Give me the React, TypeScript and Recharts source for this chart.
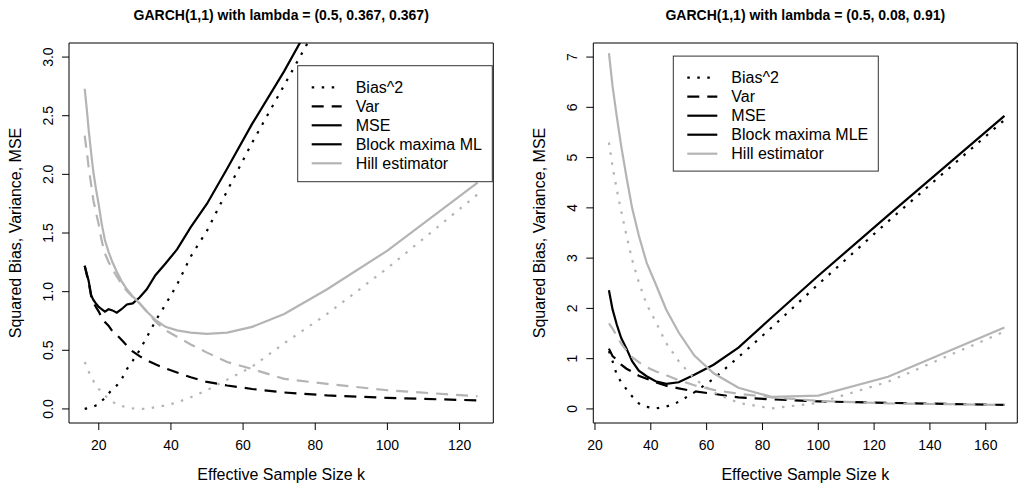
import { LineChart, Line, XAxis, YAxis, ReferenceArea } from 'recharts';

const FONT = "'Liberation Sans', Arial, Helvetica, sans-serif";
const GRAY = '#b4b4b4';
const DOT = '2.5 7.5';
const DASH = '12 8';

// left panel: lambda = (0.5, 0.367, 0.367)
const K_LEFT = [16.1, 16.7, 17.2, 17.9, 18.5, 19.2, 20, 20.8, 21.7, 22.7, 23.8, 25, 26.3, 27.8, 29.4, 31.3, 33.3, 35.7, 38.5, 41.7, 45.5, 50, 55.6, 62.5, 71.4, 83.3, 100, 125];
const BM_BIAS_LEFT = [0.0, 0.005, 0.008, 0.015, 0.02, 0.03, 0.04, 0.07, 0.09, 0.13, 0.17, 0.2, 0.25, 0.34, 0.41, 0.5, 0.61, 0.75, 0.89, 1.06, 1.3, 1.52, 1.86, 2.27, 2.76, 3.42, 4.5, 6.2];
const BM_VAR_LEFT = [1.22, 1.14, 1.08, 0.96, 0.91, 0.87, 0.83, 0.78, 0.74, 0.71, 0.66, 0.63, 0.59, 0.54, 0.49, 0.45, 0.415, 0.38, 0.345, 0.31, 0.27, 0.23, 0.2, 0.17, 0.14, 0.115, 0.094, 0.073];
const BM_MSE_LEFT = [1.22, 1.15, 1.09, 0.97, 0.93, 0.9, 0.87, 0.85, 0.83, 0.85, 0.84, 0.82, 0.85, 0.89, 0.9, 0.95, 1.02, 1.14, 1.24, 1.36, 1.55, 1.75, 2.05, 2.43, 2.88, 3.54, 4.6, 6.3];
const HILL_BIAS_LEFT = [0.4, 0.36, 0.32, 0.27, 0.24, 0.2, 0.17, 0.145, 0.115, 0.085, 0.06, 0.042, 0.025, 0.013, 0.005, 0.0, 0.0, 0.015, 0.03, 0.055, 0.1, 0.16, 0.25, 0.36, 0.56, 0.81, 1.2, 1.83];
const HILL_VAR_LEFT = [2.33, 2.19, 2.06, 1.91, 1.78, 1.68, 1.57, 1.435, 1.325, 1.255, 1.19, 1.13, 1.065, 1.005, 0.955, 0.9, 0.83, 0.745, 0.67, 0.615, 0.55, 0.48, 0.4, 0.34, 0.256, 0.213, 0.159, 0.108];
const HILL_MSE_LEFT = [2.73, 2.55, 2.38, 2.18, 2.02, 1.88, 1.74, 1.58, 1.44, 1.34, 1.25, 1.17, 1.09, 1.02, 0.96, 0.9, 0.83, 0.76, 0.7, 0.67, 0.65, 0.64, 0.65, 0.7, 0.81, 1.02, 1.35, 1.93];

// right panel: lambda = (0.5, 0.08, 0.91)
const K_RIGHT = [25, 26.3, 27.8, 29.4, 31.3, 33.3, 35.7, 38.5, 41.7, 45.5, 50, 55.6, 62.5, 71.4, 83.3, 100, 125, 166.7];
const BM_BIAS_RIGHT = [1.15, 0.95, 0.68, 0.53, 0.39, 0.25, 0.11, 0.04, 0.01, 0.045, 0.14, 0.33, 0.6, 1.03, 1.62, 2.48, 3.73, 5.75];
const BM_VAR_RIGHT = [1.2, 1.05, 0.98, 0.88, 0.8, 0.74, 0.66, 0.6, 0.53, 0.46, 0.41, 0.35, 0.3, 0.23, 0.19, 0.15, 0.12, 0.08];
const BM_MSE_RIGHT = [2.36, 1.98, 1.68, 1.41, 1.2, 0.95, 0.76, 0.65, 0.55, 0.5, 0.53, 0.68, 0.88, 1.22, 1.82, 2.65, 3.85, 5.83];
const HILL_BIAS_RIGHT = [5.3, 4.82, 4.37, 3.93, 3.45, 2.97, 2.52, 2.08, 1.74, 1.31, 0.95, 0.6, 0.33, 0.12, 0.01, 0.12, 0.54, 1.54];
const HILL_VAR_RIGHT = [1.7, 1.6, 1.45, 1.3, 1.16, 1.03, 0.93, 0.83, 0.75, 0.67, 0.57, 0.47, 0.38, 0.3, 0.23, 0.16, 0.11, 0.08];
const HILL_MSE_RIGHT = [7.08, 6.42, 5.82, 5.23, 4.61, 4.0, 3.45, 2.91, 2.49, 1.98, 1.52, 1.06, 0.71, 0.42, 0.24, 0.265, 0.64, 1.62];

const X_TICKS_LEFT = [20, 40, 60, 80, 100, 120];
const Y_TICKS_LEFT = [0, 0.5, 1, 1.5, 2, 2.5, 3];
const X_TICKS_RIGHT = [20, 40, 60, 80, 100, 120, 140, 160];
const Y_TICKS_RIGHT = [0, 1, 2, 3, 4, 5, 6, 7];

const LEGEND_LEFT = ['Bias^2', 'Var', 'MSE', 'Block maxima ML', 'Hill estimator'];
const LEGEND_RIGHT = ['Bias^2', 'Var', 'MSE', 'Block maxima MLE', 'Hill estimator'];
const LEGEND_STYLES = [
  { color: '#000', dash: DOT },
  { color: '#000', dash: DASH },
  { color: '#000', dash: undefined },
  { color: '#000', dash: undefined },
  { color: GRAY, dash: undefined },
];

const build = (ks: number[], bb: number[], bv: number[], bm: number[], hb: number[], hv: number[], hm: number[]) =>
  ks.map((k, i) => ({ k, bmBias: bb[i], bmVar: bv[i], bmMse: bm[i], hillBias: hb[i], hillVar: hv[i], hillMse: hm[i] }));

const leftData = build(K_LEFT, BM_BIAS_LEFT, BM_VAR_LEFT, BM_MSE_LEFT, HILL_BIAS_LEFT, HILL_VAR_LEFT, HILL_MSE_LEFT);
const rightData = build(K_RIGHT, BM_BIAS_RIGHT, BM_VAR_RIGHT, BM_MSE_RIGHT, HILL_BIAS_RIGHT, HILL_VAR_RIGHT, HILL_MSE_RIGHT);

const XTick = ({ x, y, payload }: any) => (
  <text x={x} y={y + 20} textAnchor="middle" fontFamily={FONT} fontSize={14} fill="#000">
    {payload.value}
  </text>
);

const makeYTick = (digits: number) => ({ x, y, payload }: any) => (
  <text
    x={x - 9}
    y={y}
    transform={`rotate(-90 ${x - 9} ${y})`}
    textAnchor="middle"
    fontFamily={FONT}
    fontSize={14}
    fill="#000"
  >
    {Number(payload.value).toFixed(digits)}
  </text>
);

type PanelProps = {
  data: any[];
  xDomain: [number, number];
  yDomain: [number, number];
  xTicks: number[];
  yTicks: number[];
  yDigits: number;
  left: number;
  yAxisWidth: number;
  right: number;
};

const Panel = ({ data, xDomain, yDomain, xTicks, yTicks, yDigits, left, yAxisWidth, right }: PanelProps) => (
  <div style={{ position: 'absolute', left, top: 0 }}>
    <LineChart width={511} height={486} data={data} margin={{ top: 43, right, bottom: 0, left: 0 }}>
      <XAxis
        type="number"
        dataKey="k"
        domain={xDomain}
        ticks={xTicks}
        allowDataOverflow
        interval={0}
        height={63}
        tickSize={7}
        tickMargin={0}
        axisLine={false}
        tickLine={{ stroke: '#000' }}
        tick={XTick}
      />
      <YAxis
        type="number"
        domain={yDomain}
        ticks={yTicks}
        allowDataOverflow
        interval={0}
        width={yAxisWidth}
        tickSize={7}
        tickMargin={0}
        axisLine={false}
        tickLine={{ stroke: '#000' }}
        tick={makeYTick(yDigits)}
      />
      <Line type="linear" dataKey="bmBias" stroke="#000" strokeWidth={2.2} strokeDasharray={DOT} dot={false} isAnimationActive={false} />
      <Line type="linear" dataKey="bmVar" stroke="#000" strokeWidth={2.2} strokeDasharray={DASH} dot={false} isAnimationActive={false} />
      <Line type="linear" dataKey="bmMse" stroke="#000" strokeWidth={2.2} dot={false} isAnimationActive={false} />
      <Line type="linear" dataKey="hillBias" stroke={GRAY} strokeWidth={2.2} strokeDasharray={DOT} dot={false} isAnimationActive={false} />
      <Line type="linear" dataKey="hillVar" stroke={GRAY} strokeWidth={2.2} strokeDasharray={DASH} dot={false} isAnimationActive={false} />
      <Line type="linear" dataKey="hillMse" stroke={GRAY} strokeWidth={2.2} dot={false} isAnimationActive={false} />
      <ReferenceArea
        x1={xDomain[0]}
        x2={xDomain[1]}
        y1={yDomain[0]}
        y2={yDomain[1]}
        fill="none"
        fillOpacity={0}
        stroke="#000"
        strokeWidth={1}
        ifOverflow="visible"
      />
    </LineChart>
  </div>
);

const LegendBox = ({ x, y, w, h, labels }: { x: number; y: number; w: number; h: number; labels: string[] }) => (
  <g>
    <rect x={x} y={y} width={w} height={h} fill="#fff" stroke="#333" strokeWidth={1} />
    {labels.map((label, i) => {
      const cy = y + 21.6 + i * 19;
      const st = LEGEND_STYLES[i];
      return (
        <g key={label}>
          <line x1={x + 14} x2={x + 44} y1={cy} y2={cy} stroke={st.color} strokeWidth={2.2} strokeDasharray={st.dash} />
          <text x={x + 58} y={cy + 5.7} fontFamily={FONT} fontSize={16} fill="#000">
            {label}
          </text>
        </g>
      );
    })}
  </g>
);

const App = () => (
  <div style={{ position: 'absolute', left: 0, top: 0, width: 1022, height: 486, background: '#fff', overflow: 'hidden' }}>
    <Panel
      data={leftData}
      xDomain={[11.75, 129.35]}
      yDomain={[-0.12, 3.12]}
      xTicks={X_TICKS_LEFT}
      yTicks={Y_TICKS_LEFT}
      yDigits={1}
      left={0}
      yAxisWidth={69}
      right={17.7}
    />
    <Panel
      data={rightData}
      xDomain={[19.4, 171.3]}
      yDomain={[-0.28, 7.28]}
      xTicks={X_TICKS_RIGHT}
      yTicks={Y_TICKS_RIGHT}
      yDigits={0}
      left={511}
      yAxisWidth={82.3}
      right={4.7}
    />
    <svg width={1022} height={486} style={{ position: 'absolute', left: 0, top: 0, pointerEvents: 'none' }}>
      <text x={281.2} y={20} textAnchor="middle" fontFamily={FONT} fontSize={14} fontWeight="bold">
        GARCH(1,1) with lambda = (0.5, 0.367, 0.367)
      </text>
      <text x={805.3} y={20} textAnchor="middle" fontFamily={FONT} fontSize={14} fontWeight="bold">
        GARCH(1,1) with lambda = (0.5, 0.08, 0.91)
      </text>
      <text x={281.2} y={480} textAnchor="middle" fontFamily={FONT} fontSize={16}>
        Effective Sample Size k
      </text>
      <text x={805.3} y={480} textAnchor="middle" fontFamily={FONT} fontSize={16}>
        Effective Sample Size k
      </text>
      <text x={21} y={233} transform="rotate(-90 21 233)" textAnchor="middle" fontFamily={FONT} fontSize={16}>
        Squared Bias, Variance, MSE
      </text>
      <text x={545} y={233} transform="rotate(-90 545 233)" textAnchor="middle" fontFamily={FONT} fontSize={16}>
        Squared Bias, Variance, MSE
      </text>
      <LegendBox x={297.7} y={65.7} w={194.6} h={116} labels={LEGEND_LEFT} />
      <LegendBox x={673.3} y={56.1} w={205} h={115} labels={LEGEND_RIGHT} />
    </svg>
  </div>
);

export default App;
